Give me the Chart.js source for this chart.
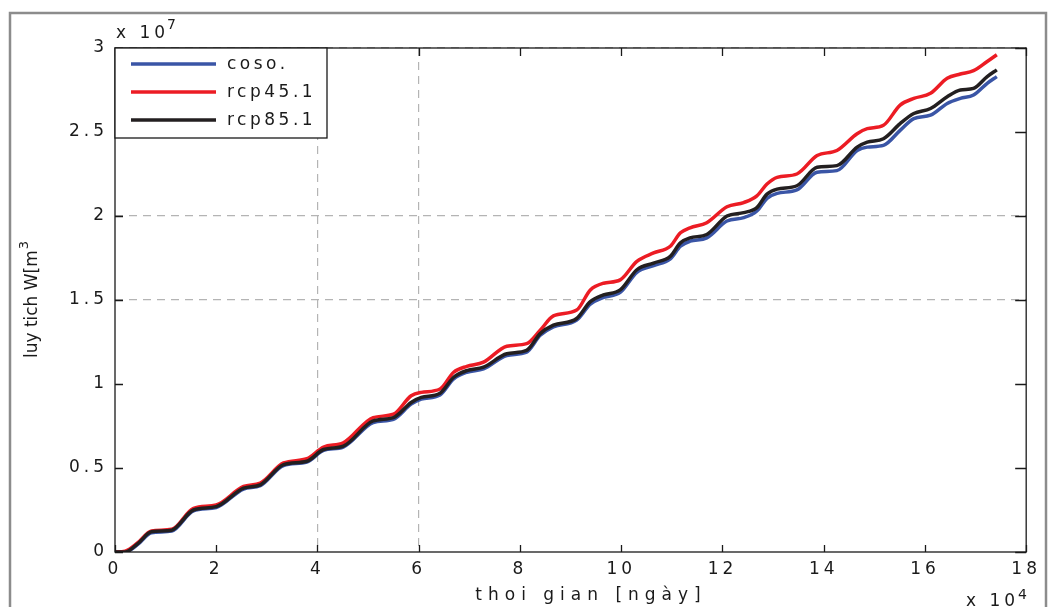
<!DOCTYPE html>
<html>
<head>
<meta charset="utf-8">
<script src="https://cdn.jsdelivr.net/npm/chart.js@4.4.1/dist/chart.umd.min.js"></script>
<style>
  html, body { margin: 0; padding: 0; background: #fff; }
</style>
</head>
<body>
<canvas id="chartLuyTich" width="1048" height="607"></canvas>
<script>
// thoi gian (x 10^4 ngay)
const ngay = [0, 0.2, 0.45, 0.72, 1.12, 1.55, 2.0, 2.54, 2.87, 3.33,
  3.79, 4.12, 4.51, 5.1, 5.5, 5.85, 6.05, 6.42, 6.69, 6.95,
  7.28, 7.74, 8.13, 8.40, 8.66, 9.12, 9.39, 9.65, 9.98, 10.31,
  10.64, 10.97, 11.17, 11.36, 11.69, 12.09, 12.42, 12.68, 12.88, 13.08,
  13.47, 13.87, 14.26, 14.66, 14.86, 15.18, 15.51, 15.78, 16.11, 16.44,
  16.70, 16.96, 17.23, 17.42];

// luy tich W (x 10^7 m3)
const coso = [0, 0, 0.045, 0.115, 0.125, 0.245, 0.265, 0.375, 0.395, 0.515,
  0.535, 0.605, 0.625, 0.77, 0.79, 0.88, 0.91, 0.935, 1.03, 1.07,
  1.09, 1.17, 1.19, 1.29, 1.34, 1.38, 1.475, 1.515, 1.545, 1.665,
  1.705, 1.745, 1.82, 1.85, 1.87, 1.97, 1.99, 2.03, 2.105, 2.135,
  2.155, 2.26, 2.27, 2.39, 2.41, 2.42, 2.51, 2.58, 2.60, 2.67,
  2.70, 2.72, 2.79, 2.83];
const rcp45 = [0, 0.005, 0.055, 0.125, 0.135, 0.26, 0.28, 0.39, 0.41, 0.53,
  0.555, 0.625, 0.65, 0.80, 0.82, 0.93, 0.95, 0.97, 1.07, 1.105,
  1.13, 1.225, 1.24, 1.32, 1.405, 1.44, 1.56, 1.60, 1.62, 1.73,
  1.78, 1.82, 1.90, 1.93, 1.96, 2.055, 2.08, 2.12, 2.19, 2.23,
  2.25, 2.36, 2.39, 2.49, 2.52, 2.54, 2.66, 2.70, 2.73, 2.82,
  2.845, 2.865, 2.92, 2.96];
const rcp85 = [0, 0, 0.05, 0.12, 0.13, 0.25, 0.27, 0.38, 0.40, 0.52,
  0.54, 0.61, 0.63, 0.78, 0.80, 0.89, 0.92, 0.945, 1.04, 1.08,
  1.10, 1.18, 1.20, 1.30, 1.35, 1.39, 1.49, 1.53, 1.56, 1.68,
  1.72, 1.76, 1.84, 1.87, 1.89, 2.00, 2.02, 2.05, 2.13, 2.16,
  2.18, 2.29, 2.30, 2.41, 2.44, 2.46, 2.55, 2.61, 2.64, 2.71,
  2.75, 2.76, 2.83, 2.87];

const tenChuoi = ["coso.", "rcp45.1", "rcp85.1"];
const xTicks = [0, 2, 4, 6, 8, 10, 12, 14, 16, 18];
const xTickNhan = ["0", "2", "4", "6", "8", "10", "12", "14", "16", "18"];
const yTicks = [0, 0.5, 1, 1.5, 2, 2.5, 3];
const yTickNhan = ["0", "0.5", "1", "1.5", "2", "2.5", "3"];
const xLuoi = [4, 6];          // cac duong luoi con thay tren hinh
const yLuoi = [1.5, 2, 3];

const FONT = "'DejaVu Sans', sans-serif";
const CACH_CHU = "4px";

function diem(ys) {
  return ngay.map((x, i) => ({ x: x, y: ys[i] }));
}

const khung = {
  id: "khung",
  beforeLayout(chart) {
    chart.ctx.letterSpacing = CACH_CHU;
  },
  beforeDraw(chart) {
    const ctx = chart.ctx;
    ctx.save();
    ctx.fillStyle = "#fff";
    ctx.fillRect(0, 0, chart.width, chart.height);
    ctx.strokeStyle = "#8c8c8c";
    ctx.lineWidth = 2.5;
    ctx.strokeRect(10, 13, 1036, 640);
    ctx.restore();
    ctx.letterSpacing = CACH_CHU;
  },
  afterDraw(chart) {
    const { ctx, chartArea: a, scales: { x, y } } = chart;
    ctx.save();
    ctx.strokeStyle = "#1a1a1a";
    ctx.lineWidth = 1.3;
    ctx.beginPath();
    x.ticks.forEach(t => {
      const px = Math.round(x.getPixelForValue(t.value)) + 0.5;
      ctx.moveTo(px, a.bottom); ctx.lineTo(px, a.bottom - 7);
      ctx.moveTo(px, a.top); ctx.lineTo(px, a.top + 8);
    });
    y.ticks.forEach(t => {
      const py = Math.round(y.getPixelForValue(t.value)) + 0.5;
      ctx.moveTo(a.left, py); ctx.lineTo(a.left + 8, py);
      ctx.moveTo(a.right, py); ctx.lineTo(a.right - 11, py);
    });
    ctx.stroke();
    ctx.strokeRect(a.left, a.top, a.right - a.left, a.bottom - a.top);

    // chu giai
    const lx = a.left, ly = a.top, lw = 212, lh = 90;
    ctx.fillStyle = "#fff";
    ctx.fillRect(lx, ly, lw, lh);
    ctx.strokeRect(lx, ly, lw, lh);
    ctx.font = "17px " + FONT;
    ctx.letterSpacing = "3.5px";
    ctx.textBaseline = "middle";
    ctx.textAlign = "left";
    chart.data.datasets.forEach((ds, i) => {
      const yy = ly + 16 + i * 28;
      ctx.strokeStyle = ds.borderColor;
      ctx.lineWidth = 3.5;
      ctx.beginPath();
      ctx.moveTo(lx + 16, yy); ctx.lineTo(lx + 101, yy);
      ctx.stroke();
      ctx.fillStyle = "#1a1a1a";
      ctx.fillText(ds.label, lx + 112, yy + 1);
    });

    // he so nhan va tieu de truc
    ctx.fillStyle = "#1a1a1a";
    ctx.textBaseline = "alphabetic";
    ctx.letterSpacing = "4px";
    ctx.font = "17px " + FONT;
    ctx.fillText("x 10", a.left + 1, 38);
    ctx.font = "14px " + FONT;
    ctx.fillText("7", a.left + 52, 29);
    ctx.font = "17px " + FONT;
    ctx.fillText("x 10", 966, 606);
    ctx.font = "14px " + FONT;
    ctx.fillText("4", 1018, 599);

    ctx.font = "17px " + FONT;
    ctx.letterSpacing = "6px";
    ctx.textAlign = "center";
    ctx.fillText("thoi gian [ngày]", 591, 600);

    ctx.letterSpacing = "0px";
    ctx.textAlign = "left";
    ctx.font = "17px " + FONT;
    const chinh = "luy tich W[m";
    const w1 = ctx.measureText(chinh).width;
    ctx.font = "13px " + FONT;
    const w2 = ctx.measureText("3").width;
    ctx.translate(37, (a.top + a.bottom) / 2);
    ctx.rotate(-Math.PI / 2);
    const x0 = -(w1 + w2) / 2;
    ctx.font = "17px " + FONT;
    ctx.fillText(chinh, x0, 0);
    ctx.font = "13px " + FONT;
    ctx.fillText("3", x0 + w1 + 1, -9);
    ctx.restore();
    ctx.letterSpacing = CACH_CHU;
  }
};

Chart.defaults.font.family = FONT;
Chart.defaults.font.size = 17;
Chart.defaults.color = "#1a1a1a";

new Chart(document.getElementById("chartLuyTich"), {
  type: "line",
  data: {
    datasets: [
      { label: tenChuoi[0], data: diem(coso), borderColor: "#3a55a6", order: 2 },
      { label: tenChuoi[1], data: diem(rcp45), borderColor: "#ec1c24", order: 1 },
      { label: tenChuoi[2], data: diem(rcp85), borderColor: "#231f20", order: 0 }
    ]
  },
  options: {
    responsive: false,
    animation: false,
    devicePixelRatio: 1,
    layout: { padding: { top: 48, right: 20, left: 0, bottom: 0 } },
    elements: {
      point: { radius: 0 },
      line: { borderWidth: 3.5, cubicInterpolationMode: "monotone" }
    },
    plugins: { legend: { display: false }, tooltip: { enabled: false } },
    scales: {
      x: {
        type: "linear",
        min: 0,
        max: 18,
        afterBuildTicks: s => { s.ticks = xTicks.map(v => ({ value: v })); },
        afterFit: s => { s.height = 55; },
        ticks: {
          padding: 7, maxRotation: 0, autoSkip: false,
          callback: (v, i) => xTickNhan[i]
        },
        grid: {
          drawTicks: false,
          lineWidth: 1.2,
          color: c => (c.tick && xLuoi.includes(c.tick.value)) ? "#b4b4b4" : "rgba(0,0,0,0)"
        },
        border: { display: false, dash: [8, 6] }
      },
      y: {
        min: 0,
        max: 3,
        afterBuildTicks: s => { s.ticks = yTicks.map(v => ({ value: v })); },
        afterFit: s => { s.width = 115; },
        ticks: {
          padding: 7, autoSkip: false,
          callback: (v, i) => yTickNhan[i]
        },
        grid: {
          drawTicks: false,
          lineWidth: 1.2,
          color: c => (c.tick && yLuoi.includes(c.tick.value)) ? "#b4b4b4" : "rgba(0,0,0,0)"
        },
        border: { display: false, dash: [8, 6] }
      }
    }
  },
  plugins: [khung]
});
</script>
</body>
</html>
